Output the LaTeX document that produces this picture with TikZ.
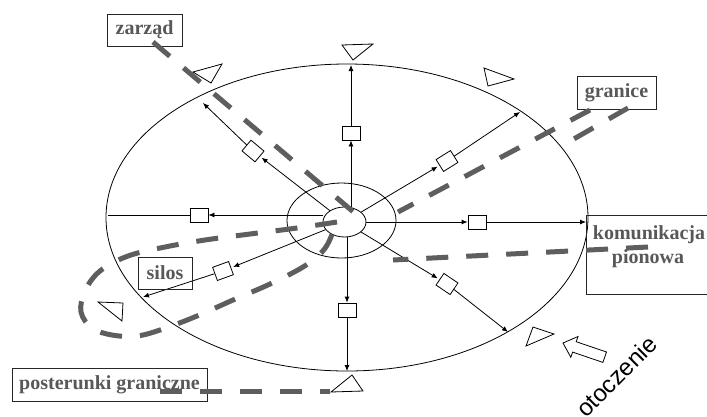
\documentclass[tikz,border=0pt]{standalone}
\usepackage{fontspec}
\setmainfont{Liberation Serif}
\newfontfamily\arialfont{Liberation Sans}
\usetikzlibrary{arrows.meta,shapes.geometric}
\definecolor{dashgray}{HTML}{5E5E5E}
\definecolor{txtgray}{HTML}{585858}
\begin{document}
\begin{tikzpicture}[x=1pt,y=-1pt,
  thinline/.style={line width=0.8pt, draw=black},
  arr/.style={thinline, -{Latex[length=6pt,width=5pt]}},
  frame/.style={draw=black!85, line width=0.9pt, rectangle, inner sep=0pt},
  lbl/.style={font=\fontsize{20}{22}\selectfont\bfseries, text=txtgray, inner sep=0pt},
  sqbox/.style={draw, line width=0.8pt, fill=white, rectangle, minimum width=18pt, minimum height=14pt, inner sep=0pt},
  dmbox/.style={sqbox, minimum width=17pt, minimum height=14pt},
  tri/.style={draw, line width=0.8pt},
  bigdash/.style={draw=dashgray, line width=5pt, dash pattern=on 22pt off 18pt},
  ring/.style={ellipse, draw, line width=0.8pt, inner sep=0pt},
]
\useasboundingbox (0,0) rectangle (707,416);
% ellipses
\node[ring, minimum width=482pt, minimum height=307pt] (outer) at (347,217.5) {};
\node[ring, minimum width=109pt, minimum height=75pt] (mid) at (341.5,220.5) {};
\node[ring, minimum width=43pt, minimum height=30pt] (inner) at (344.5,222) {};
% tips on the outer ellipse
\coordinate (tipU) at (351,65);
\coordinate (tipUL) at (203,103);
\coordinate (tipUR) at (520,112);
\coordinate (tipL) at (108,215);
\coordinate (tipR) at (586,222);
\coordinate (tipDL) at (143,297);
\coordinate (tipD) at (347,371);
\coordinate (tipDR) at (508,332);
% squares and diamonds
\node[sqbox] (sqU) at (351,133) {};
\node[sqbox] (sqL) at (199,215) {};
\node[sqbox] (sqR) at (477,222) {};
\node[sqbox] (sqD) at (347,310) {};
\node[dmbox, rotate=-40] (dUL) at (253,151) {};
\node[dmbox, rotate=32] (dUR) at (447,161) {};
\node[dmbox, rotate=20] (dDL) at (223,271) {};
\node[dmbox, rotate=-34] (dDR) at (447,284) {};
% connectors
\draw[arr] (inner.north -| sqU) -- (sqU.south);
\draw[arr] (sqU.north) -- (tipU);
\draw[arr] (inner.south -| sqD) -- (sqD.north);
\draw[arr] (sqD.south) -- (tipD);
\draw[arr] (inner.west |- sqL) -- (sqL.east);
\draw[thinline] (sqL.west) -- (tipL);
\draw[arr] (inner.east |- sqR) -- (sqR.west);
\draw[arr] (sqR.east) -- (tipR);
\draw[arr, shorten >=2pt] (inner) -- (dUL);
\draw[arr] (dUL) -- (tipUL);
\draw[arr, shorten >=2pt] (inner) -- (dUR);
\draw[arr] (dUR) -- (tipUR);
\draw[arr, shorten >=2pt] (inner) -- (dDL);
\draw[arr] (dDL) -- (tipDL);
\draw[arr, shorten >=2pt] (inner) -- (dDR);
\draw[arr] (dDR) -- (tipDR);
% triangles
\draw[tri] (342,45) -- (373,44) -- (353,60) -- cycle;
\draw[tri] (193,72) -- (222,64) -- (211,83) -- cycle;
\draw[tri] (484,68) -- (514,79) -- (488,86) -- cycle;
\draw[tri] (98,302) -- (123,303) -- (122,321) -- cycle;
\draw[tri] (331,392) -- (352,375) -- (363,391) -- cycle;
\draw[tri] (526,346) -- (533,327) -- (554,334) -- cycle;
% block arrow
\draw[tri] (563,343) -- (578,336.5) -- (576.2,341.7) -- (606.5,352) -- (602.9,362.4) -- (572.6,352.1) -- (570.8,357.3) -- cycle;
% boxes
\node[frame, minimum width=75pt, minimum height=32pt] (zarzad) at (144.5,30) {};
\node[lbl] at (zarzad) {zarząd};
\node[frame, minimum width=79pt, minimum height=33pt] (granice) at (616.5,92.5) {};
\node[lbl] at (granice) {granice};
\node[frame, minimum width=123pt, minimum height=79pt] (kom) at (647.5,254.5) {};
\node[lbl, anchor=base] (komA) at (649,239) {komunikacja};
\node[lbl, anchor=base] (komB) at (648,263) {pionowa};
\node[frame, minimum width=54pt, minimum height=32pt] (silos) at (165,273) {};
\node[lbl] at (silos) {silos};
\node[frame, minimum width=195pt, minimum height=33pt] (post) at (109.5,384.5) {};
\node[lbl] at (post) {posterunki graniczne};
% otoczenie
\node[font=\arialfont\fontsize{24}{27}\selectfont, rotate=45, anchor=base west, inner sep=0pt] (otocz) at (586,419) {otoczenie};
% thick dashed lines
\draw[bigdash] (153,42) -- (357,215);
\draw[bigdash] (590,110) -- (398,212);
\draw[bigdash] (628,108) -- (572,140);
\draw[bigdash] (648,247) -- (393,260);
\draw[bigdash] (160,391) -- (330,391);
\draw[bigdash] plot[smooth, tension=0.6] coordinates {(337,222) (297,228) (250,234) (205,240) (165,247) (128,256) (100,271) (85,291) (81,312) (92,328) (112,335) (137,336) (163,329) (197,316) (233,300) (270,284) (303,267) (322,252) (331,237) (335,222)};
\end{tikzpicture}
\end{document}
